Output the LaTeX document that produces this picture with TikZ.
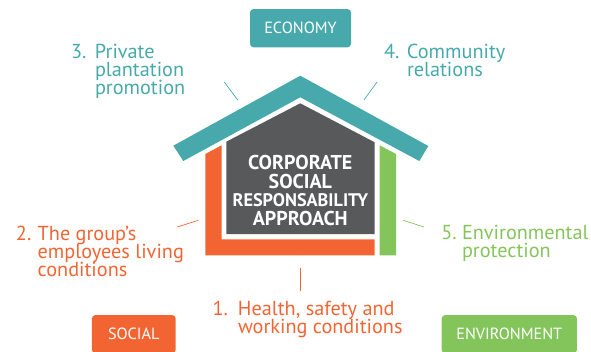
\documentclass[tikz,border=0pt]{standalone}
\usepackage{fontspec}
\setmainfont{PT Sans}
\definecolor{teal1}{HTML}{47A9AB}
\definecolor{orange1}{HTML}{F26532}
\definecolor{green1}{HTML}{84C55B}
\definecolor{gray1}{HTML}{58595B}
\tikzset{
  catbox/.style={rounded corners=3.5pt,inner sep=0pt,minimum height=38.3pt,text=white,font=\fontsize{16.2}{18}\selectfont},
  itemlabel/.style={anchor=base west,inner sep=0pt,outer sep=0pt,font=\fontsize{20.25}{18.2}\selectfont},
  tick/.style={line width=0.7pt},
  title/.style={anchor=base,inner sep=0pt,text=white,font=\fontsize{20}{18}\bfseries\selectfont},
}
\newcommand{\itemtext}[3]{\hbox{\makebox[#1pt][l]{#2}\vtop{\lineskiplimit=-60pt\lineskip=0pt\baselineskip=18.2pt #3}}}
\newcommand{\itemline}[1]{\hbox{#1}}
\begin{document}
\begin{tikzpicture}[x=1pt,y=-1pt]
\useasboundingbox (0,0) rectangle (591,351);
\clip (0,0) rectangle (591,351);
% house
\fill[teal1] (300.3,75.7) -- (428.3,146) -- (419.3,161) -- (300.3,97.3) -- (183.3,161) -- (173.3,145.7) -- cycle;
\fill[gray1] (300.3,103.3) -- (374.7,142.3) -- (374.7,234) -- (226.3,234) -- (226.3,141.7) -- cycle;
\fill[orange1] (205.3,154) -- (221.7,145.3) -- (221.7,239.3) -- (374.7,239.3) -- (374.7,255.3) -- (205.3,255.3) -- cycle;
\fill[green1] (379.7,145.3) -- (396,154) -- (396,255.3) -- (379.7,255.3) -- cycle;
% title
\node[title] (t1) at (300.3,169) {CORPORATE};
\node[title] (t2) at (300.3,188) {SOCIAL};
\node[title,font=\fontsize{18.2}{18}\bfseries\selectfont] (t3) at (300.3,206.7) {RESPONSABILITY};
\node[title] (t4) at (300.3,225) {APPROACH};
% category boxes
\node[catbox,fill=teal1,minimum width=101pt] (economy) at (300.5,28.2) {ECONOMY};
\node[catbox,fill=orange1,minimum width=83.7pt] (social) at (133.8,334.2) {SOCIAL};
\node[catbox,fill=green1,minimum width=135.3pt] (environment) at (509.3,334.2) {ENVIRONMENT};
% item labels
\node[itemlabel,text=teal1] (i3) at (71,58) {\itemtext{24}{3.}{\itemline{Private}\itemline{plantation}\itemline{promotion}}};
\node[itemlabel,text=teal1] (i4) at (384,58) {\itemtext{23}{4.}{\itemline{Community}\itemline{relations}}};
\node[itemlabel,text=orange1] (i2) at (16,240) {\itemtext{21.7}{2.}{\itemline{The group’s}\itemline{employees living}\itemline{conditions}}};
\node[itemlabel,text=orange1] (i1) at (212.5,315.7) {\itemtext{25.5}{1.}{\itemline{Health, safety and}\itemline{working conditions}}};
\node[itemlabel,text=green1] (i5) at (441.3,239) {\itemtext{20.7}{5.}{\itemline{Environmental}\itemline{protection}}};
% ticks
\coordinate (a3) at (224.3,82); \coordinate (b3) at (237.7,100);
\coordinate (a4) at (377,82); \coordinate (b4) at (364,100);
\coordinate (a2) at (177.3,227); \coordinate (b2) at (198.3,220.3);
\coordinate (a5) at (424,227); \coordinate (b5) at (403.3,220.3);
\coordinate (a1) at (300.3,268.3); \coordinate (b1) at (300.3,290.7);
\draw[tick,teal1] (a3) -- (b3);
\draw[tick,teal1] (a4) -- (b4);
\draw[tick,orange1] (a2) -- (b2);
\draw[tick,green1] (a5) -- (b5);
\draw[tick,orange1] (a1) -- (b1);
\end{tikzpicture}
\end{document}
